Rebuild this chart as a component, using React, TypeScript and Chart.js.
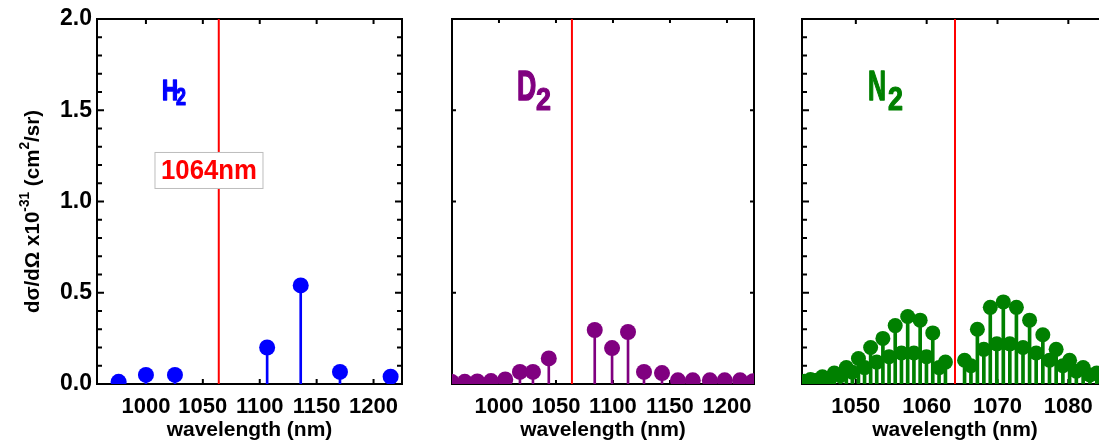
import React, { useEffect, useRef } from 'react';
import { Chart, registerables } from 'chart.js';

Chart.register(...registerables);

const FONT = "'Liberation Sans', Arial, Helvetica, sans-serif";

// ---------------- data ----------------
const laserNm = 1064;

const h2Wavelength = [976, 1000, 1025.5, 1106.5, 1136, 1170.5, 1215];
const h2Signal = [0.012, 0.05, 0.05, 0.2, 0.54, 0.066, 0.04];

const d2Wavelength = [958.5, 970, 981, 993, 1005.5, 1018.4, 1029.8, 1043.7, 1084, 1099.2, 1113.2, 1127.2, 1143, 1157, 1170, 1185, 1198, 1211.5, 1223];
const d2Signal = [0.012, 0.012, 0.014, 0.016, 0.025, 0.066, 0.066, 0.14, 0.296, 0.197, 0.285, 0.066, 0.06, 0.02, 0.02, 0.02, 0.02, 0.02, 0.015];

const n2Wavelength = [
  1042.77, 1043.6, 1044.44, 1045.28, 1046.12, 1046.96, 1047.81, 1048.66, 1049.51, 1050.37,
  1051.23, 1052.09, 1052.95, 1053.82, 1054.69, 1055.56, 1056.44, 1057.32, 1058.2, 1059.08,
  1059.97, 1060.86, 1061.75, 1062.65,
  1065.35, 1066.25, 1067.16, 1068.07, 1068.98, 1069.9, 1070.82, 1071.74, 1072.67, 1073.6,
  1074.53, 1075.46, 1076.4, 1077.34, 1078.28, 1079.23, 1080.18, 1081.13, 1082.09, 1083.05,
  1084.01, 1084.98,
];
const n2Signal = [
  0.015, 0.025, 0.02, 0.04, 0.03, 0.06, 0.045, 0.09, 0.065, 0.14,
  0.09, 0.2, 0.12, 0.25, 0.15, 0.32, 0.17, 0.37, 0.17, 0.35,
  0.15, 0.28, 0.09, 0.12,
  0.13, 0.1, 0.3, 0.19, 0.42, 0.22, 0.45, 0.22, 0.42, 0.2,
  0.35, 0.17, 0.27, 0.13, 0.19, 0.1, 0.13, 0.07, 0.09, 0.05,
  0.06, 0.035,
];

const xTicksWide = [1000, 1050, 1100, 1150, 1200];
const xTicksN2 = [1050, 1060, 1070, 1080];
const yTicksMajor = [0, 0.5, 1.0, 1.5, 2.0];
const yTicksMinor = [0.1, 0.2, 0.3, 0.4, 0.6, 0.7, 0.8, 0.9, 1.1, 1.2, 1.3, 1.4, 1.6, 1.7, 1.8, 1.9];

// ---------------- panel settings ----------------
type Label = { main: string; sub: string; x: number; y: number; size: number; sx: number; subSize: number; subSx: number; subDx: number; subDy: number };
type Panel = {
  id: string; canvasLeft: number; canvasWidth: number; plotLeft: number; plotRight: number;
  xMin: number; xMax: number; xTicks: number[]; wl: number[]; sig: number[]; color: string;
  radius: number; stem: number; showY: boolean; yMinor: boolean; yMajLen: number; yMinLen: number;
  xMajLen: number; label: Label; laserBox: boolean; yTitle: boolean;
};

const panels: Panel[] = [
  {
    id: 'h2', canvasLeft: 0, canvasWidth: 420, plotLeft: 97, plotRight: 402,
    xMin: 957, xMax: 1225, xTicks: xTicksWide, wl: h2Wavelength, sig: h2Signal, color: '#0000ff',
    radius: 8, stem: 2, showY: true, yMinor: true, yMajLen: 7, yMinLen: 5, xMajLen: 5,
    label: { main: 'H', sub: '2', x: 1014.1, y: 1.556, size: 30, sx: 0.74, subSize: 23, subSx: 0.78, subDx: 14, subDy: 5 },
    laserBox: true, yTitle: true,
  },
  {
    id: 'd2', canvasLeft: 420, canvasWidth: 350, plotLeft: 452, plotRight: 754,
    xMin: 958.8, xMax: 1223.7, xTicks: xTicksWide, wl: d2Wavelength, sig: d2Signal, color: '#800080',
    radius: 8, stem: 2, showY: false, yMinor: false, yMajLen: 4, yMinLen: 0, xMajLen: 4,
    label: { main: 'D', sub: '2', x: 1015.8, y: 1.556, size: 43, sx: 0.62, subSize: 32, subSx: 0.84, subDx: 19, subDy: 10 },
    laserBox: false, yTitle: false,
  },
  {
    id: 'n2', canvasLeft: 770, canvasWidth: 400, plotLeft: 802, plotRight: 1108,
    xMin: 1042.4, xMax: 1085.6, xTicks: xTicksN2, wl: n2Wavelength, sig: n2Signal, color: '#008000',
    radius: 7.5, stem: 3, showY: false, yMinor: true, yMajLen: 7, yMinLen: 5, xMajLen: 5,
    label: { main: 'N', sub: '2', x: 1051.7, y: 1.556, size: 43, sx: 0.58, subSize: 34, subSx: 0.79, subDx: 20, subDy: 10 },
    laserBox: false, yTitle: false,
  },
];

function squashText(ctx: CanvasRenderingContext2D, text: string, x: number, y: number, size: number, sx: number, color: string, align: CanvasTextAlign = 'left', baseline: CanvasTextBaseline = 'alphabetic', stroke = 0) {
  ctx.save();
  ctx.font = `bold ${size}px ${FONT}`;
  ctx.fillStyle = color;
  ctx.strokeStyle = color;
  ctx.textAlign = align;
  ctx.textBaseline = baseline;
  ctx.translate(x, y);
  ctx.scale(sx, 1);
  ctx.fillText(text, 0, 0);
  if (stroke > 0) {
    ctx.lineWidth = stroke;
    ctx.lineJoin = 'round';
    ctx.strokeText(text, 0, 0);
  }
  ctx.restore();
}

const framePlugin = (p: Panel) => ({
  id: 'frame-' + p.id,
  beforeDatasetsDraw(chart: any) {
    const { ctx, chartArea: a, scales } = chart;
    const x = scales.x, y = scales.y;
    ctx.save();
    ctx.strokeStyle = '#000';
    ctx.lineWidth = 2;
    ctx.strokeRect(a.left, a.top, a.right - a.left, a.bottom - a.top);
    ctx.beginPath();
    for (const v of yTicksMajor) {
      const py = y.getPixelForValue(v);
      ctx.moveTo(a.left, py); ctx.lineTo(a.left + p.yMajLen, py);
      ctx.moveTo(a.right, py); ctx.lineTo(a.right - p.yMajLen, py);
    }
    if (p.yMinor) {
      for (const v of yTicksMinor) {
        const py = y.getPixelForValue(v);
        ctx.moveTo(a.left, py); ctx.lineTo(a.left + p.yMinLen, py);
        ctx.moveTo(a.right, py); ctx.lineTo(a.right - p.yMinLen, py);
      }
    }
    for (const v of p.xTicks) {
      const px = x.getPixelForValue(v);
      ctx.moveTo(px, a.top); ctx.lineTo(px, a.top + p.xMajLen);
      ctx.moveTo(px, a.bottom); ctx.lineTo(px, a.bottom - p.xMajLen);
    }
    ctx.stroke();
    ctx.restore();
  },
});

const annotPlugin = (p: Panel) => ({
  id: 'annot-' + p.id,
  afterDatasetsDraw(chart: any) {
    const { ctx, scales } = chart;
    const x = scales.x, y = scales.y;
    const L = p.label;
    const lx = x.getPixelForValue(L.x);
    const ly = y.getPixelForValue(L.y);
    squashText(ctx, L.main, lx, ly, L.size, L.sx, p.color, 'left', 'alphabetic', 1.5);
    squashText(ctx, L.sub, lx + L.subDx, ly + L.subDy, L.subSize, L.subSx, p.color, 'left', 'alphabetic', 1.2);

    if (p.laserBox) {
      const cx = x.getPixelForValue(1055.4);
      const cy = y.getPixelForValue(1.17);
      ctx.save();
      ctx.fillStyle = '#ffffff';
      ctx.strokeStyle = '#bdbdbd';
      ctx.lineWidth = 1;
      ctx.fillRect(cx - 54.5, cy - 18.5, 109, 37);
      ctx.strokeRect(cx - 54.5 + 0.5, cy - 18.5 + 0.5, 108, 36);
      ctx.restore();
      squashText(ctx, laserNm + 'nm', cx, cy + 8.5, 28, 0.92, '#ff0000', 'center', 'alphabetic');
    }

    if (p.yTitle) {
      const segs = [
        { t: 'd\u03c3/d\u03a9 x10', sup: false },
        { t: '-31', sup: true },
        { t: ' (cm', sup: false },
        { t: '2', sup: true },
        { t: '/sr)', sup: false },
      ];
      const mainSize = 21, supSize = 14;
      ctx.save();
      let total = 0;
      for (const s of segs) {
        ctx.font = `bold ${s.sup ? supSize : mainSize}px ${FONT}`;
        total += ctx.measureText(s.t).width;
      }
      const target = 203;
      ctx.translate(33, 313);
      ctx.rotate(-Math.PI / 2);
      ctx.scale(target / total, 1);
      ctx.fillStyle = '#000';
      ctx.textBaseline = 'middle';
      ctx.textAlign = 'left';
      let cur = 0;
      for (const s of segs) {
        ctx.font = `bold ${s.sup ? supSize : mainSize}px ${FONT}`;
        ctx.fillText(s.t, cur, s.sup ? -8 : 0);
        cur += ctx.measureText(s.t).width;
      }
      ctx.restore();
    }
  },
});

function makeChart(canvas: HTMLCanvasElement, p: Panel) {
  const pts = p.wl.map((w, i) => ({ x: w, y: p.sig[i] }));
  return new Chart(canvas, {
    type: 'bar',
    data: {
      datasets: [
        {
          type: 'line', data: [{ x: laserNm, y: 0 }, { x: laserNm, y: 2 }],
          borderColor: '#ff0000', borderWidth: 2, pointRadius: 0, order: 0,
        } as any,
        {
          type: 'scatter', data: pts, pointRadius: p.radius, pointHoverRadius: p.radius,
          pointStyle: 'circle', backgroundColor: p.color, borderColor: p.color, borderWidth: 0, order: 1,
        } as any,
        {
          type: 'bar', data: pts, backgroundColor: p.color, borderWidth: 0, barThickness: p.stem, order: 2,
        } as any,
      ],
    },
    options: {
      responsive: false,
      animation: false,
      devicePixelRatio: 1,
      events: [],
      layout: { padding: { left: 0, top: 19, bottom: 0, right: p.canvasWidth - (p.plotRight - p.canvasLeft) } },
      plugins: { legend: { display: false }, tooltip: { enabled: false } },
      scales: {
        x: {
          type: 'linear', min: p.xMin, max: p.xMax, offset: false,
          grid: { display: false, drawTicks: false }, border: { display: false },
          afterBuildTicks: (s: any) => { s.ticks = p.xTicks.map((v) => ({ value: v })); },
          ticks: {
            autoSkip: false, maxRotation: 0, minRotation: 0, padding: 10, color: '#000',
            font: { family: FONT, size: 22, weight: 'bold' }, callback: (v: any) => String(v),
          },
          title: {
            display: true, text: 'wavelength (nm)', color: '#000',
            font: { family: FONT, size: 21, weight: 'bold' }, padding: { top: 0, bottom: 3 },
          },
          afterFit: (s: any) => { s.height = 446 - 384; },
        },
        y: {
          type: 'linear', min: 0, max: 2,
          grid: { display: false, drawTicks: false }, border: { display: false },
          afterBuildTicks: (s: any) => { s.ticks = yTicksMajor.map((v) => ({ value: v })); },
          ticks: {
            display: p.showY, padding: 5, color: '#000',
            font: { family: FONT, size: 23, weight: 'bold' },
            callback: (v: any) => Number(v).toFixed(1),
          },
          afterFit: (s: any) => { s.width = p.plotLeft - p.canvasLeft; },
        },
      },
    } as any,
    plugins: [framePlugin(p), annotPlugin(p)],
  });
}

export default function App() {
  const r0 = useRef<HTMLCanvasElement>(null);
  const r1 = useRef<HTMLCanvasElement>(null);
  const r2 = useRef<HTMLCanvasElement>(null);
  const refs = [r0, r1, r2];

  useEffect(() => {
    const charts = panels.map((p, i) => makeChart(refs[i].current as HTMLCanvasElement, p));
    return () => charts.forEach((c) => c.destroy());
  }, []);

  return (
    <div style={{ position: 'fixed', left: 0, top: 0, width: 1099, height: 446, overflow: 'hidden', background: '#ffffff' }}>
      {panels.map((p, i) => (
        <canvas
          key={p.id}
          ref={refs[i]}
          width={p.canvasWidth}
          height={446}
          style={{ position: 'absolute', left: p.canvasLeft, top: 0, width: p.canvasWidth, height: 446 }}
        />
      ))}
    </div>
  );
}
